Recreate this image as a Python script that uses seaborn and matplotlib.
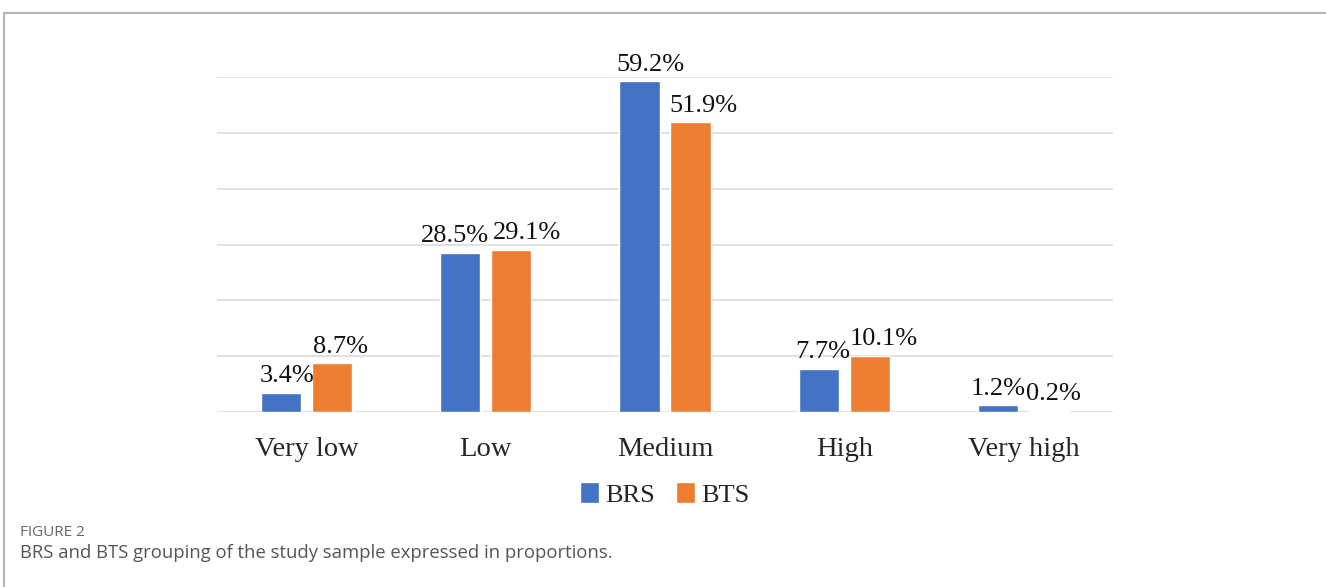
import pandas as pd
import matplotlib.pyplot as plt
import seaborn as sns
from matplotlib.lines import Line2D

sns.set_style('white')
plt.rcParams['font.family'] = ['Liberation Serif', 'DejaVu Serif']

categories = ['Very low', 'Low', 'Medium', 'High', 'Very high']
brs = [3.4, 28.5, 59.2, 7.7, 1.2]
bts = [8.7, 29.1, 51.9, 10.1, 0.2]
groups = ['BRS', 'BTS']
colors = ['#4472C4', '#ED7D31']

df = pd.DataFrame({
    'Level': categories * 2,
    'Group': [groups[0]] * len(categories) + [groups[1]] * len(categories),
    'Percent': brs + bts,
})

W, H = 1326, 587
fig = plt.figure(figsize=(W / 100, H / 100), dpi=100)
ax = fig.add_axes([217 / W, 1 - 412 / H, 896 / W, 335 / H])

sns.barplot(data=df, x='Level', y='Percent', hue='Group', order=categories,
            hue_order=groups, palette=colors, width=0.57, gap=0.215,
            saturation=1, ax=ax, legend=True)

ax.set_ylim(0, 60)
ax.set_yticks(range(0, 61, 10))
ax.yaxis.grid(True, color='#dcdcdc', linewidth=1.2)
ax.set_axisbelow(True)
ax.tick_params(axis='y', left=False, labelleft=False)
ax.tick_params(axis='x', length=0, pad=18, labelsize=20.5)
for s in ['top', 'right', 'left', 'bottom']:
    ax.spines[s].set_visible(False)
ax.set_xlabel('')
ax.set_ylabel('')

# data labels, nudged a little like the original (offsets in points)
offsets = {
    'BRS': [4, -4, 8, 3, 0],
    'BTS': [6, 11, 9, 10, 3],
}
for cont, g in zip(ax.containers, groups):
    for i, (bar, v) in enumerate(zip(cont, df[df['Group'] == g]['Percent'])):
        ax.annotate(f'{v}%', (bar.get_x() + bar.get_width() / 2, bar.get_height()),
                    xytext=(offsets[g][i], 4), textcoords='offset points',
                    ha='center', va='bottom', fontsize=19, color='#111111')

ax.legend(loc='center', bbox_to_anchor=(0.5, -0.245), ncol=2,
          frameon=False, fontsize=19, handlelength=0.7, handleheight=0.9,
          handletextpad=0.25, columnspacing=0.8)

# frame lines of the figure panel
fig.add_artist(Line2D([4 / W, 4 / W], [0, 1 - 13 / H], color='#b5b5b5', lw=1.5))
fig.add_artist(Line2D([4 / W, 1], [1 - 13 / H, 1 - 13 / H], color='#b5b5b5', lw=1.5))

fig.text(20 / W, 1 - 533 / H, 'FIGURE 2', fontsize=11, color='#666666',
         family='Open Sans', va='center')
fig.text(20 / W, 1 - 553 / H,
         'BRS and BTS grouping of the study sample expressed in proportions.',
         fontsize=13.3, color='#555555', family='Open Sans', va='center')

fig.savefig('out.png', dpi=100)
plt.close(fig)
